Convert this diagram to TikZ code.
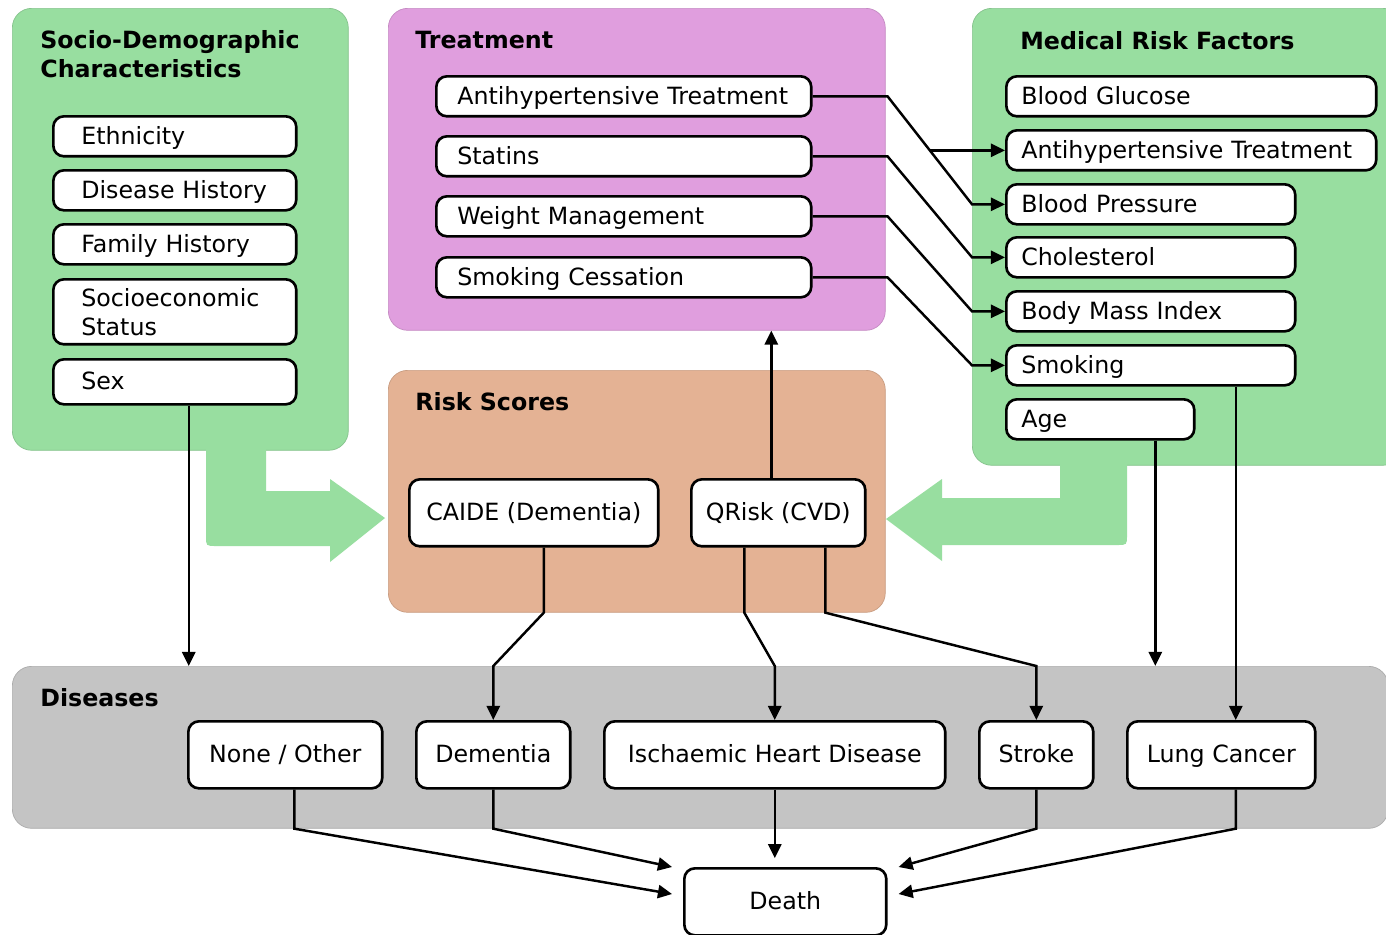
\documentclass[tikz,border=0pt]{standalone}
\usepackage{fontspec}
\setmainfont{DejaVu Sans}
\usetikzlibrary{arrows.meta,calc}

\definecolor{factgreen}{RGB}{152,222,160}
\definecolor{treatpink}{RGB}{224,158,222}
\definecolor{scorepeach}{RGB}{228,178,148}
\definecolor{diseasegray}{RGB}{196,196,196}

\begin{document}
\begin{tikzpicture}[
        x=0.02cm, y=-0.02cm,
        every node/.style={font=\fontsize{13.5}{16.5}\selectfont},
        panel/.style={anchor=north west, inner sep=0pt, rounded corners=11pt,
            fill=#1, draw=#1!88!black, line width=0.4pt},
        ttl/.style={anchor=north west, inner sep=0pt, align=left,
            font=\fontsize{13.5}{16.5}\selectfont\bfseries},
        box/.style={draw, fill=white, line width=1.5pt, rounded corners=6pt, anchor=north west},
        lbox/.style 2 args={box, inner xsep=0pt, inner ysep=0pt, text width=#1,
            execute at begin node={\leftskip=#2}},
        oneline/.style={minimum height=0.8cm, text height=12pt, text depth=3pt},
        cbox/.style={box, inner xsep=2pt, minimum width=#1, minimum height=1.34cm,
            text height=12pt, text depth=3pt},
        link/.style={line width=1.4pt},
        conn/.style={link, -{Triangle[length=8pt,width=7.5pt]}}
    ]

    \useasboundingbox (0,0) rectangle (1386,934);
    \fill[white] (0,0) rectangle (1386,934);
    \clip (0,0) rectangle (1386,934);

    % =====================================================
    % Panels
    % =====================================================
    \node[panel=factgreen, minimum width=6.72cm, minimum height=8.84cm] (sdp) at (12,8) {};
    \node[panel=treatpink, minimum width=9.94cm, minimum height=6.44cm] (trp) at (388,8) {};
    \node[panel=factgreen, minimum width=8.6cm, minimum height=9.14cm] (mrp) at (972,8) {};
    \node[panel=scorepeach, minimum width=9.94cm, minimum height=4.84cm] (rsp) at (388,370) {};
    \node[panel=diseasegray, minimum width=27.52cm, minimum height=3.24cm] (dsp) at (12,666) {};

    % Broad arrows into the risk scores
    \fill[factgreen] (206,440) -- (206,536) .. controls (206,546) .. (216,546)
        -- (330,546) -- (330,562) -- (385,518) -- (330,479) -- (330,491)
        -- (266,491) -- (266,440) -- cycle;
    \fill[factgreen] (1127,455) -- (1127,535) .. controls (1127,545) .. (1117,545)
        -- (942,545) -- (942,561) -- (886,519) -- (942,479) -- (942,498)
        -- (1060,498) -- (1060,455) -- cycle;

    % =====================================================
    % Socio-demographic characteristics
    % =====================================================
    \node[ttl] (sdt) at (40,30) {Socio-Demographic\\Characteristics};
    \node[lbox={4.86cm}{0.56cm}, oneline] (eth) at (52,115) {Ethnicity};
    \node[lbox={4.86cm}{0.56cm}, oneline] (dhist) at (52,169) {Disease History};
    \node[lbox={4.86cm}{0.56cm}, oneline] (fhist) at (52,223) {Family History};
    \node[lbox={4.86cm}{0.56cm}, minimum height=1.3cm] (ses) at (52,278) {Socioeconomic\\Status};
    \node[lbox={4.86cm}{0.56cm}, oneline, minimum height=0.9cm] (sex) at (52,358) {Sex};

    % =====================================================
    % Treatment
    % =====================================================
    \node[ttl] (trt) at (415,31) {Treatment};
    \node[lbox={7.5cm}{0.42cm}, oneline] (tanti) at (435,75) {Antihypertensive Treatment};
    \node[lbox={7.5cm}{0.42cm}, oneline] (tstat) at (435,135) {Statins};
    \node[lbox={7.5cm}{0.42cm}, oneline] (tweight) at (435,195) {Weight Management};
    \node[lbox={7.5cm}{0.42cm}, oneline] (tsmoke) at (435,256) {Smoking Cessation};

    % =====================================================
    % Medical risk factors
    % =====================================================
    \node[ttl] (mrt) at (1020,31) {Medical Risk Factors};
    \node[lbox={7.4cm}{0.3cm}, oneline] (mglu) at (1005,75) {Blood Glucose};
    \node[lbox={7.4cm}{0.3cm}, oneline] (manti) at (1005,129) {Antihypertensive Treatment};
    \node[lbox={5.78cm}{0.3cm}, oneline] (mbp) at (1005,183) {Blood Pressure};
    \node[lbox={5.78cm}{0.3cm}, oneline] (mchol) at (1005,236) {Cholesterol};
    \node[lbox={5.78cm}{0.3cm}, oneline] (mbmi) at (1005,290) {Body Mass Index};
    \node[lbox={5.78cm}{0.3cm}, oneline] (msmoke) at (1005,344) {Smoking};
    \node[lbox={3.76cm}{0.3cm}, oneline] (mage) at (1005,398) {Age};

    % =====================================================
    % Risk scores and diseases
    % =====================================================
    \node[ttl] (rst) at (415,392) {Risk Scores};
    \node[cbox=4.98cm] (caide) at (408,478) {CAIDE (Dementia)};
    \node[cbox=3.48cm] (qrisk) at (690,478) {QRisk (CVD)};

    \node[ttl] (dst) at (40,688) {Diseases};
    \node[cbox=3.88cm] (none) at (187,720) {None / Other};
    \node[cbox=3.08cm] (dem) at (415,720) {Dementia};
    \node[cbox=6.82cm] (ihd) at (603,720) {Ischaemic Heart Disease};
    \node[cbox=2.28cm] (stroke) at (978,720) {Stroke};
    \node[cbox=3.76cm] (lung) at (1126,720) {Lung Cancer};
    \node[cbox=4.04cm] (death) at (683,867) {Death};

    % =====================================================
    % Connectors
    % =====================================================
    % Treatment acts on the risk factors
    \draw[conn] (tanti.east) -- ++(75,0)
        -- coordinate[pos=0.5] (antibr) ($(mbp.west)+(-33,0)$) -- (mbp.west);
    \draw[conn] (antibr) -- (antibr -| manti.west);
    \draw[conn] (tstat.east) -- ++(75,0) -- ($(mchol.west)+(-33,0)$) -- (mchol.west);
    \draw[conn] (tweight.east) -- ++(75,0) -- ($(mbmi.west)+(-33,0)$) -- (mbmi.west);
    \draw[conn] (tsmoke.east) -- ++(75,0) -- ($(msmoke.west)+(-33,0)$) -- (msmoke.west);

    % Factors straight into diseases
    \coordinate (sexout) at ($(sex.south)+(14,0)$);
    \coordinate (ageout) at ($(mage.south)+(55,0)$);
    \coordinate (smokeout) at ($(msmoke.south)+(85,0)$);
    \draw[conn] (sexout) -- (sexout |- dsp.north);
    \draw[conn] (ageout) -- (ageout |- dsp.north);
    \draw[conn] (smokeout) -- (smokeout |- lung.north);

    % Risk scores
    \coordinate (caideout) at ($(caide.south)+(10,0)$);
    \coordinate (qihd) at ($(qrisk.south)+(-34,0)$);
    \coordinate (qstroke) at ($(qrisk.south)+(47,0)$);
    \coordinate (qtreat) at ($(qrisk.north)+(-7,0)$);
    \draw[conn] (caideout) -- (caideout |- rsp.south) -- (dem.north |- dsp.north) -- (dem.north);
    \draw[conn] (qihd) -- (qihd |- rsp.south) -- (ihd.north |- dsp.north) -- (ihd.north);
    \draw[conn] (qstroke) -- (qstroke |- rsp.south) -- (stroke.north |- dsp.north) -- (stroke.north);
    \draw[conn] (qtreat) -- (qtreat |- trp.south);

    % Diseases to death
    \coordinate (noneout) at ($(none.south)+(9,0)$);
    \draw[conn] (noneout) -- (noneout |- dsp.south) -- ($(death.north west)+(-11,27)$);
    \draw[conn] (dem.south) -- (dem.south |- dsp.south) -- ($(death.north west)+(-11,0)$);
    \draw[conn, shorten >=5pt] (ihd.south) -- (ihd.south |- death.north);
    \draw[conn] (stroke.south) -- (stroke.south |- dsp.south) -- ($(death.north east)+(11,0)$);
    \draw[conn] (smokeout |- lung.south) -- (smokeout |- dsp.south) -- ($(death.north east)+(11,27)$);

\end{tikzpicture}
\end{document}
